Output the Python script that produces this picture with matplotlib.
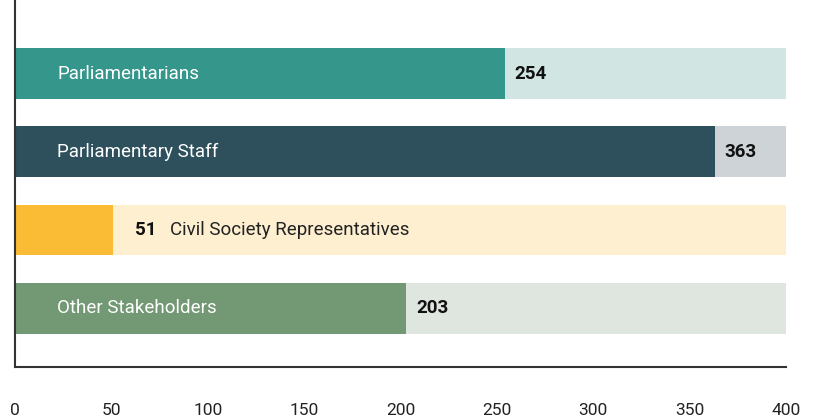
import matplotlib
matplotlib.use("Agg")
import matplotlib.pyplot as plt
import matplotlib.font_manager as fm

# data
categories = ["Parliamentarians", "Parliamentary Staff",
              "Civil Society Representatives", "Other Stakeholders"]
values = [254, 363, 51, 203]
total = 400
ticks = [0, 50, 100, 150, 200, 250, 300, 350, 400]

bar_colors = ["#35968C", "#2E4F5C", "#FBBC35", "#739874"]
bg_colors = ["#D1E6E3", "#CDD3D7", "#FEEFD1", "#DFE6DF"]

names = {f.name for f in fm.fontManager.ttflist}
tick_font = ["Liberation Sans Narrow", "DejaVu Sans"] if "Liberation Sans Narrow" in names else ["Roboto", "DejaVu Sans"]

fig = plt.figure(figsize=(8.14, 4.19), dpi=100)
ax = fig.add_axes([15 / 814, 1 - 367 / 419, 771 / 814, 367 / 419])

pos = list(range(len(categories)))
ax.barh(pos, [total] * len(pos), height=0.65, color=bg_colors, zorder=1)
ax.barh(pos, values, height=0.65, color=bar_colors, zorder=2)

fs = 13.5
for i, (name, v) in enumerate(zip(categories, values)):
    if v > 100:
        ax.text(22, i, name, color="white", fontsize=fs, va="center",
                ha="left", family="Roboto", zorder=3)
        ax.text(v + 5, i, str(v), color="#111111", fontsize=fs,
                fontweight="bold", va="center", ha="left", family="Roboto", zorder=3)
    else:
        t = ax.text(v + 11, i, str(v), color="#111111", fontsize=fs,
                    fontweight="bold", va="center", ha="left", family="Roboto", zorder=3)
        ax.annotate(name, xycoords=t, xy=(1, 0.5), xytext=(10, 0),
                    textcoords="offset points", color="#222222", fontsize=fs,
                    va="center", ha="left", family="Roboto", zorder=3)

ax.set_xlim(0, total)
ax.set_ylim(3.75, -0.94)
ax.set_yticks([])
ax.set_xticks(ticks)
ax.set_xticklabels([str(t) for t in ticks], family=tick_font, fontsize=12.5, color="#222222")
ax.tick_params(axis="x", length=0, pad=26)
for s in ["top", "right"]:
    ax.spines[s].set_visible(False)
ax.spines["left"].set_color("#333333")
ax.spines["bottom"].set_color("#333333")
ax.spines["left"].set_linewidth(1.5)
ax.spines["bottom"].set_linewidth(1.5)

fig.savefig("out.png", dpi=100)
